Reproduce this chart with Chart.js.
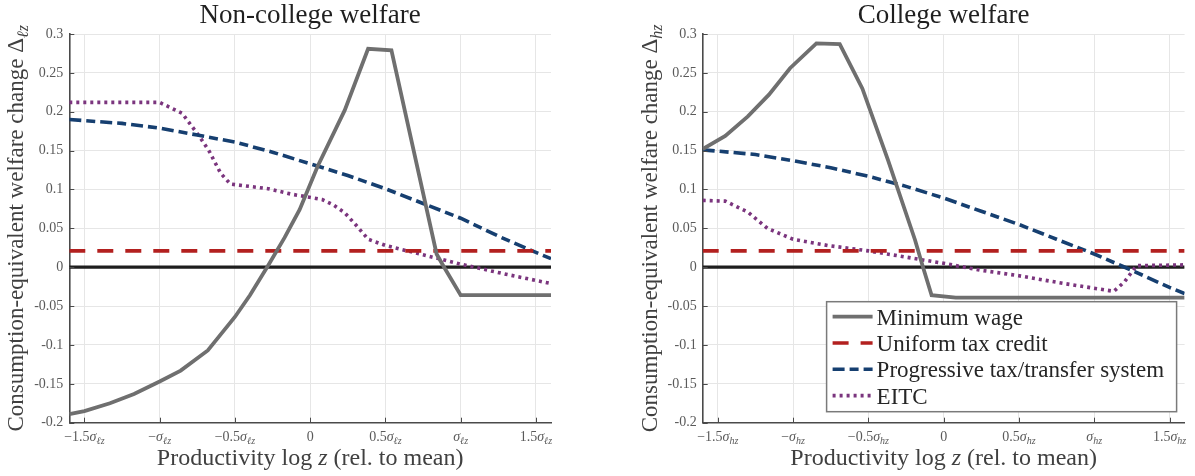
<!DOCTYPE html>
<html><head><meta charset="utf-8">
<script src="https://cdn.jsdelivr.net/npm/chart.js@4.4.1/dist/chart.umd.min.js"></script>
<style>
html,body{margin:0;padding:0;background:#fff;width:1195px;height:476px;overflow:hidden}
canvas{position:absolute;top:0}
#c1{left:0}
#c2{left:597px}
</style></head><body>
<canvas id="c1" width="597" height="476"></canvas>
<canvas id="c2" width="598" height="476"></canvas>
<script>
// ---------- DATA ----------
const seriesNames = ['Minimum wage', 'Uniform tax credit', 'Progressive tax/transfer system', 'EITC'];

const xTickValues = [-1.5, -1, -0.5, 0, 0.5, 1, 1.5];
const xTickPrefix = ['\u22121.5', '\u2212', '\u22120.5', '0', '0.5', '', '1.5'];
const xTickHasSigma = [true, true, true, false, true, true, true];
const yTickValues = [0.3, 0.25, 0.2, 0.15, 0.1, 0.05, 0, -0.05, -0.1, -0.15, -0.2];
const yTickLabels = ['0.3', '0.25', '0.2', '0.15', '0.1', '0.05', '0', '-0.05', '-0.1', '-0.15', '-0.2'];

// Non-college panel
const ncMinWageX = [-1.6, -1.5, -1.33, -1.17, -1.0, -0.86, -0.68, -0.5, -0.4, -0.28, -0.17, -0.07, 0.05, 0.23, 0.385, 0.54, 0.84, 0.89, 1.0, 1.6];
const ncMinWageY = [-0.189, -0.185, -0.175, -0.163, -0.147, -0.133, -0.107, -0.064, -0.036, 0.002, 0.038, 0.074, 0.13, 0.202, 0.281, 0.279, 0.017, 0.0, -0.036, -0.036];
const ncCreditX = [-1.6, 1.6];
const ncCreditY = [0.021, 0.021];
const ncProgX = [-1.6, -1.25, -1.0, -0.75, -0.5, -0.25, 0, 0.25, 0.5, 0.75, 1.0, 1.25, 1.5, 1.6];
const ncProgY = [0.19, 0.185, 0.179, 0.17, 0.161, 0.148, 0.133, 0.118, 0.101, 0.082, 0.063, 0.040, 0.019, 0.011];
const ncEitcX = [-1.6, -1.0, -0.85, -0.735, -0.67, -0.595, -0.53, -0.28, -0.125, 0.08, 0.155, 0.23, 0.31, 0.385, 0.5, 0.75, 1.0, 1.3, 1.6];
const ncEitcY = [0.212, 0.212, 0.198, 0.168, 0.149, 0.121, 0.107, 0.101, 0.094, 0.087, 0.080, 0.070, 0.053, 0.036, 0.028, 0.016, 0.004, -0.009, -0.021];

// College panel
const cMinWageX = [-1.6, -1.45, -1.3, -1.16, -1.02, -0.845, -0.69, -0.54, -0.37, -0.19, -0.14, -0.08, 0.08, 1.6];
const cMinWageY = [0.152, 0.169, 0.194, 0.222, 0.256, 0.288, 0.287, 0.23, 0.138, 0.035, 0.002, -0.036, -0.039, -0.039];
const cCreditX = [-1.6, 1.6];
const cCreditY = [0.021, 0.021];
const cProgX = [-1.6, -1.25, -1.0, -0.75, -0.5, -0.25, 0, 0.25, 0.5, 0.75, 1.0, 1.25, 1.5, 1.6];
const cProgY = [0.151, 0.145, 0.137, 0.128, 0.117, 0.104, 0.089, 0.072, 0.055, 0.036, 0.017, -0.004, -0.026, -0.034];
const cEitcX = [-1.6, -1.45, -1.3, -1.17, -1.0, -0.77, -0.5, -0.25, 0, 0.25, 0.5, 0.8, 1.13, 1.2, 1.28, 1.6];
const cEitcY = [0.086, 0.085, 0.071, 0.05, 0.036, 0.028, 0.021, 0.013, 0.005, -0.004, -0.011, -0.021, -0.031, -0.019, 0.002, 0.003];

const zeroX = [-1.6, 1.6];
const zeroY = [0, 0];

// ---------- STYLE ----------
const SERIF = '"Liberation Serif", "DejaVu Serif", serif';
const AXIS_COLOR = '#4a4a4a';
const COLORS = ['#6f6f6f', '#b3201f', '#163f70', '#7b357e'];
const DASHES = [[], [16, 12], [12, 5, 9, 5], [3, 4]];
const WIDTHS = [3.8, 3.6, 3.6, 3.6];

const zip = (xs, ys) => xs.map((x, i) => ({x: x, y: ys[i]}));

function makeDatasets(mwX, mwY, crX, crY, prX, prY, eiX, eiY) {
  const sets = [[mwX, mwY], [crX, crY], [prX, prY], [eiX, eiY]].map((p, i) => ({
    label: seriesNames[i],
    data: zip(p[0], p[1]),
    borderColor: COLORS[i],
    borderWidth: WIDTHS[i],
    borderDash: DASHES[i],
    borderCapStyle: 'butt',
    pointRadius: 0,
    tension: 0,
    fill: false
  }));
  sets.push({
    label: 'zero',
    data: zip(zeroX, zeroY),
    borderColor: '#1e1e1e',
    borderWidth: 3.2,
    pointRadius: 0,
    tension: 0,
    fill: false
  });
  return sets;
}

function richWidth(ctx, segs) {
  let w = 0;
  for (const s of segs) { ctx.font = s.font; w += ctx.measureText(s.t).width; }
  return w;
}
function drawRich(ctx, segs, x, y, align, color) {
  const w = richWidth(ctx, segs);
  let cx = align === 'center' ? x - w / 2 : (align === 'right' ? x - w : x);
  ctx.fillStyle = color;
  ctx.textBaseline = 'alphabetic';
  ctx.textAlign = 'left';
  for (const s of segs) {
    ctx.font = s.font;
    ctx.fillText(s.t, cx, y + (s.dy || 0));
    cx += ctx.measureText(s.t).width;
  }
}

const annot = {
  id: 'annot',
  afterDraw(chart, args, o) {
    const ctx = chart.ctx, ca = chart.chartArea, xs = chart.scales.x, ys = chart.scales.y;
    ctx.save();
    // inward tick marks
    ctx.strokeStyle = AXIS_COLOR;
    ctx.lineWidth = 1;
    ctx.setLineDash([]);
    xTickValues.forEach(v => {
      const px = Math.round(xs.getPixelForValue(v)) + 0.5;
      ctx.beginPath(); ctx.moveTo(px, ca.bottom); ctx.lineTo(px, ca.bottom - 5); ctx.stroke();
    });
    yTickValues.forEach(v => {
      const py = Math.round(ys.getPixelForValue(v)) + 0.5;
      ctx.beginPath(); ctx.moveTo(ca.left, py); ctx.lineTo(ca.left + 5, py); ctx.stroke();
    });
    // x tick labels with subscripts
    xTickValues.forEach((v, i) => {
      const px = xs.getPixelForValue(v);
      const segs = [{t: xTickPrefix[i], font: '14px ' + SERIF}];
      if (xTickHasSigma[i]) {
        segs.push({t: '\u03C3', font: 'italic 14px ' + SERIF});
        segs.push({t: o.sub, font: 'italic 10px ' + SERIF, dy: 3});
      }
      drawRich(ctx, segs, px, ca.bottom + 18, 'center', '#5a5a5a');
    });
    // title
    drawRich(ctx, [{t: o.title, font: '27px ' + SERIF}], (ca.left + ca.right) / 2, 23, 'center', '#1f1f1f');
    // x axis label
    drawRich(ctx, [
      {t: 'Productivity log ', font: '24px ' + SERIF},
      {t: 'z', font: 'italic 24px ' + SERIF},
      {t: ' (rel. to mean)', font: '24px ' + SERIF}
    ], (ca.left + ca.right) / 2, 465, 'center', '#404040');
    // y axis label
    ctx.save();
    ctx.translate(ca.left - o.yLabelOffset, (ca.top + ca.bottom) / 2);
    ctx.rotate(-Math.PI / 2);
    drawRich(ctx, [
      {t: 'Consumption-equivalent welfare change \u0394', font: '23px ' + SERIF},
      {t: o.sub, font: 'italic 16px ' + SERIF, dy: 5}
    ], 0, 7, 'center', '#404040');
    ctx.restore();
    // legend
    if (o.legend) {
      const bw = 350, bh = 110;
      const bx = ca.right - 8 - bw, by = ca.bottom - 11 - bh;
      ctx.fillStyle = '#ffffff';
      ctx.fillRect(bx, by, bw, bh);
      ctx.strokeStyle = '#7a7a7a';
      ctx.lineWidth = 1.5;
      ctx.setLineDash([]);
      ctx.strokeRect(bx, by, bw, bh);
      for (let i = 0; i < 4; i++) {
        const ds = chart.data.datasets[i];
        const ry = by + 15 + i * 26.3;
        ctx.strokeStyle = ds.borderColor;
        ctx.lineWidth = ds.borderWidth;
        ctx.lineCap = 'butt';
        ctx.setLineDash(ds.borderDash);
        ctx.beginPath(); ctx.moveTo(bx + 6, ry); ctx.lineTo(bx + 46, ry); ctx.stroke();
        ctx.setLineDash([]);
        drawRich(ctx, [{t: ds.label, font: '23px ' + SERIF}], bx + 50, ry + 8, 'left', '#262626');
      }
    }
    ctx.restore();
  }
};

function makeChart(id, datasets, opts) {
  return new Chart(document.getElementById(id), {
    type: 'line',
    data: {datasets: datasets},
    plugins: [annot],
    options: {
      responsive: false,
      animation: false,
      devicePixelRatio: 1,
      layout: {padding: {top: 34, left: 0, right: opts.padRight, bottom: 0}},
      plugins: {
        legend: {display: false},
        tooltip: {enabled: false},
        annot: opts
      },
      scales: {
        x: {
          type: 'linear', min: -1.6, max: 1.6,
          afterBuildTicks: s => { s.ticks = xTickValues.map(v => ({value: v})); },
          afterFit: s => { s.height = 53.3; },
          ticks: {display: false},
          grid: {color: '#e6e6e6', lineWidth: 1, drawTicks: false},
          border: {display: true, color: AXIS_COLOR, width: 1.6}
        },
        y: {
          type: 'linear', min: -0.2, max: 0.3,
          afterBuildTicks: s => { s.ticks = yTickValues.map(v => ({value: v})); },
          afterFit: s => { s.width = opts.yWidth; },
          ticks: {
            callback: (v, i) => yTickLabels[i],
            font: {family: SERIF, size: 14},
            color: '#5a5a5a',
            padding: 6
          },
          grid: {color: '#e6e6e6', lineWidth: 1, drawTicks: false},
          border: {display: true, color: AXIS_COLOR, width: 1.6}
        }
      }
    }
  });
}

makeChart('c1', makeDatasets(ncMinWageX, ncMinWageY, ncCreditX, ncCreditY, ncProgX, ncProgY, ncEitcX, ncEitcY),
  {title: 'Non-college welfare', sub: '\u2113z', legend: false, yWidth: 69.3, padRight: 46, yLabelOffset: 53});
makeChart('c2', makeDatasets(cMinWageX, cMinWageY, cCreditX, cCreditY, cProgX, cProgY, cEitcX, cEitcY),
  {title: 'College welfare', sub: 'hz', legend: true, yWidth: 105.7, padRight: 10.4, yLabelOffset: 53});
</script></body></html>
